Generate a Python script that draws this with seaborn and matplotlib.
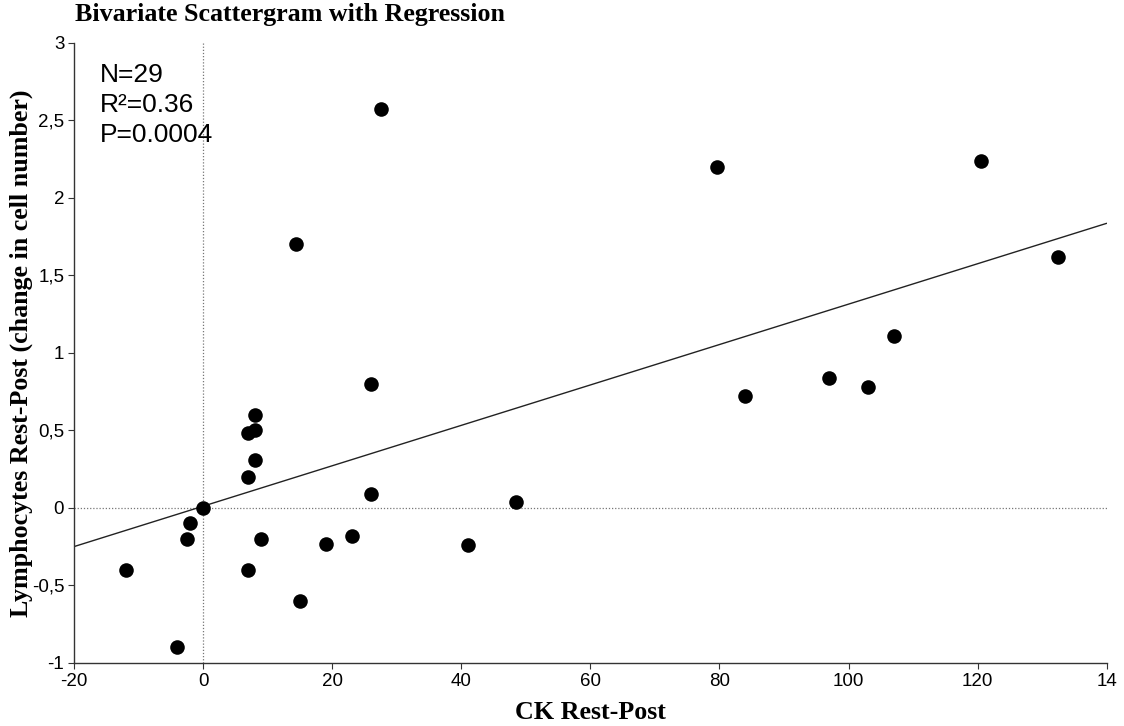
import numpy as np
import pandas as pd
import matplotlib
matplotlib.use("Agg")
import matplotlib.pyplot as plt
import seaborn as sns

# Change in CK (x) and change in lymphocyte count (y), rest minus post
ck_change = [-12, -4, -2.5, -2, 0, 7, 7, 8, 8, 8, 7, 9, 14.4, 15, 19, 23,
             26, 26, 27.6, 41, 48.5, 79.7, 84, 97, 103, 107, 120.5, 132.5]
lymph_change = [-0.40, -0.90, -0.20, -0.10, 0.0, 0.20, 0.48, 0.50, 0.60, 0.31,
                -0.40, -0.20, 1.70, -0.60, -0.23, -0.18, 0.80, 0.09, 2.57, -0.24,
                0.04, 2.20, 0.72, 0.84, 0.78, 1.11, 2.24, 1.62]

# Fitted regression line
reg_intercept = 0.011
reg_slope = 0.01303

x_ticks = [-20, 0, 20, 40, 60, 80, 100, 120, 140]
x_tick_labels = ["-20", "0", "20", "40", "60", "80", "100", "120", "14"]
y_ticks = [-1, -0.5, 0, 0.5, 1, 1.5, 2, 2.5, 3]
y_tick_labels = ["-1", "-0,5", "0", "0,5", "1", "1,5", "2", "2,5", "3"]

stats_text = "N=29\nR\u00b2=0.36\nP=0.0004"

df = pd.DataFrame({"ck": ck_change, "lymph": lymph_change})

sns.set_style("ticks")
plt.rcParams["font.family"] = ["Liberation Sans", "DejaVu Sans"]
plt.rcParams["text.color"] = "black"
plt.rcParams["axes.labelcolor"] = "black"

fig = plt.figure(figsize=(11.24, 7.26), dpi=100)
ax = fig.add_axes([0.0658, 0.0868, 0.9188, 0.8544])

xlim = (-20, 140)
ylim = (-1, 3)
ax.set_xlim(*xlim)
ax.set_ylim(*ylim)

# Dotted reference lines through the origin
ax.axvline(0, color="#777777", lw=0.9, ls=(0, (1, 1.5)), zorder=1)
ax.axhline(0, color="#777777", lw=0.9, ls=(0, (1, 1.5)), zorder=1)

# Regression line across the full x range
line_x = np.array(xlim, dtype=float)
line_y = reg_intercept + reg_slope * line_x
sns.lineplot(x=line_x, y=line_y, ax=ax, color="#222222", lw=1.0, zorder=2)

sns.scatterplot(data=df, x="ck", y="lymph", ax=ax, color="black",
                s=110, edgecolor="black", linewidth=0, zorder=3)

ax.set_xticks(x_ticks)
ax.set_xticklabels(x_tick_labels)
ax.set_yticks(y_ticks)
ax.set_yticklabels(y_tick_labels)
ax.tick_params(axis="both", direction="out", length=4, width=0.8,
               labelsize=13.5, colors="#333333", labelcolor="black", pad=3)

for side in ("top", "right"):
    ax.spines[side].set_visible(False)
for side in ("left", "bottom"):
    ax.spines[side].set_color("#333333")
    ax.spines[side].set_linewidth(1.0)

serif_bold = dict(family=["Liberation Serif", "DejaVu Serif"], weight="bold",
                  size=18.7, color="black")
ax.set_xlabel("CK Rest-Post", labelpad=8, **serif_bold)
ax.set_ylabel("Lymphocytes Rest-Post (change in cell number)", labelpad=-1.0, **serif_bold)

fig.text(75 / 1124, 1 - 15 / 726, "Bivariate Scattergram with Regression",
         ha="left", va="center", **serif_bold)

ax.text(100 / 1124, 1 - 105 / 726, stats_text, transform=fig.transFigure,
        ha="left", va="center", fontsize=19, linespacing=1.32)

fig.savefig("out.png", dpi=100, facecolor="white")
